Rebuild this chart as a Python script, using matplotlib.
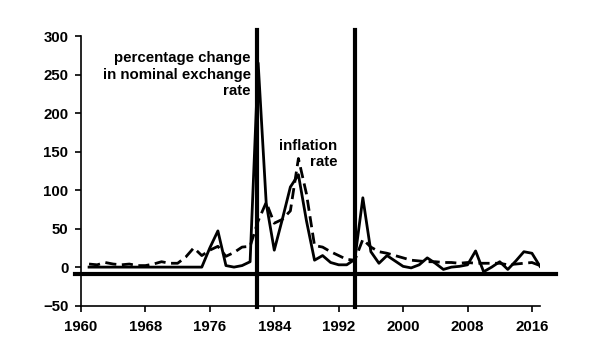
import numpy as np
import matplotlib.pyplot as plt

plt.rcParams['font.family'] = ['Liberation Sans', 'DejaVu Sans']
plt.rcParams['font.weight'] = 'bold'

years = np.arange(1961, 2018)

# percentage change in nominal exchange rate
exchange = [0, 0, 0, 0, 0, 0, 0, 0, 0, 0,
            0, 0, 0, 0, 0, 25, 47, 2, 0, 2,
            7, 265, 83, 22, 62, 104, 120, 60, 9, 15,
            6, 3, 3, 10, 90, 20, 5, 15, 8, 1,
            -1, 3, 12, 5, -3, 0, 1, 3, 21, -6,
            0, 7, -3, 8, 20, 18, 1]

# inflation rate
inflation = [4, 3, 6, 4, 3, 4, 2, 2, 4, 7,
             5, 5, 13, 25, 15, 22, 27, 14, 19, 26,
             27, 60, 84, 57, 62, 73, 141, 95, 28, 26,
             20, 15, 10, 9, 36, 26, 20, 18, 15, 12,
             9, 8, 7, 7, 6, 6, 5, 6, 5, 5,
             5, 5, 3, 4, 5, 6, 2]

xticks = list(range(1960, 2017, 8))
yticks = list(range(-50, 301, 50))

fig = plt.figure(figsize=(6, 3.6), dpi=100)
ax = fig.add_axes([0.135, 0.151, 0.765, 0.749])

ax.plot(years, exchange, color='black', lw=2.0)
ax.plot(years, inflation, color='black', lw=2.0, ls=(0, (4, 2)))

# reference lines
ax.axhline(-8.5, xmin=-0.013, xmax=1.035, color='black', lw=3, clip_on=False)
for yr in [1981.8, 1994.05]:
    ax.axvline(yr, ymin=-0.005, ymax=1.022, color='black', lw=3, clip_on=False)

ax.text(1981.1, 280, 'percentage change\nin nominal exchange\nrate', ha='right', va='top',
        multialignment='right', fontsize=10.8, fontweight='bold', linespacing=1.2)
ax.text(1991.8, 166, 'inflation\nrate', ha='right', va='top',
        multialignment='right', fontsize=10.8, fontweight='bold', linespacing=1.2)

ax.set_xlim(1960, 2017)
ax.set_ylim(-50, 300)
ax.set_xticks(xticks)
ax.set_yticks(yticks)
ax.tick_params(labelsize=10.8, width=1.2, length=4, direction='out')
ax.tick_params(axis='x', pad=6)
ax.tick_params(axis='y', pad=5)
for lab in ax.get_xticklabels() + ax.get_yticklabels():
    lab.set_fontweight('bold')

for s in ['top', 'right']:
    ax.spines[s].set_visible(False)
for s in ['left', 'bottom']:
    ax.spines[s].set_linewidth(1.2)

fig.savefig('out.png', dpi=100)
